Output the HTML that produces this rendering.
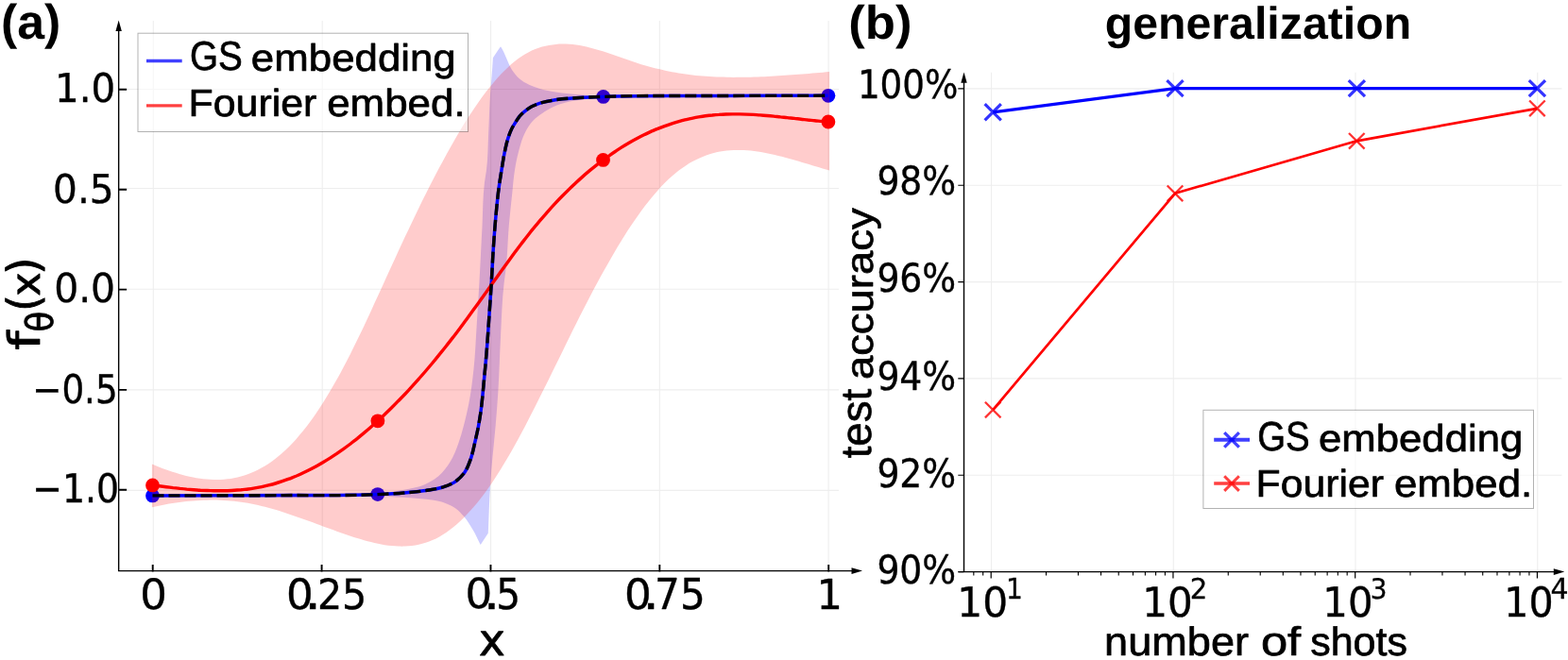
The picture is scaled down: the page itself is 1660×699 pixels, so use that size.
<!DOCTYPE html>
<html lang="en"><head><meta charset="utf-8"><title>GS embedding vs Fourier embedding</title>
<style>html,body{margin:0;padding:0;background:#fff;overflow:hidden}svg{display:block}</style>
</head><body>
<svg width="1660" height="699" viewBox="0 0 1660 699">
<rect width="1660" height="699" fill="#fff"/>
<path d="M162.30,22.0 V604.6 M341.20,22.0 V604.6 M519.60,22.0 V604.6 M698.30,22.0 V604.6 M877.10,22.0 V604.6 M125.65,94.50 H888.0 M125.65,199.50 H888.0 M125.65,306.20 H888.0 M125.65,412.90 H888.0 M125.65,519.40 H888.0 M1049.50,76.7 V605.6 M1242.25,76.7 V605.6 M1435.00,76.7 V605.6 M1627.75,76.7 V605.6 M1020.5,93.90 H1653.5 M1020.5,196.24 H1653.5 M1020.5,298.58 H1653.5 M1020.5,400.92 H1653.5 M1020.5,503.26 H1653.5" stroke="#eeeeee" stroke-width="1.1" fill="none"/>
<circle cx="161.5" cy="524.9" r="7.4" fill="#0000ff"/>
<circle cx="399.8" cy="523.6" r="7.4" fill="#0000ff"/>
<circle cx="638.7" cy="102.4" r="7.4" fill="#0000ff"/>
<circle cx="876.9" cy="101.3" r="7.4" fill="#0000ff"/>
<circle cx="161.5" cy="513.9" r="7.4" fill="#ff0000"/>
<circle cx="399.9" cy="445.8" r="7.4" fill="#ff0000"/>
<circle cx="638.5" cy="169.4" r="7.4" fill="#ff0000"/>
<circle cx="876.9" cy="129.0" r="7.4" fill="#ff0000"/>
<path d="M162.0,524.6 C241.2,523.9 321.1,532.2 399.7,522.6 C409.0,521.5 418.4,520.7 427.6,518.8 C435.0,517.3 442.7,516.2 449.5,513.2 C454.8,510.8 460.1,507.8 464.5,504.0 C469.2,499.9 473.2,494.6 476.5,489.3 C480.4,483.1 483.0,475.9 485.5,469.0 C487.5,463.4 489.1,457.7 490.6,452.0 C491.8,447.7 492.8,443.3 493.8,439.0 C494.7,435.2 495.5,431.3 496.3,427.5 C498.7,415.7 500.1,403.6 501.4,391.6 C503.1,376.4 503.6,361.1 504.6,345.8 C505.6,330.5 506.5,315.3 507.4,300.0 C508.5,280.0 509.4,260.0 510.5,240.0 C511.3,224.3 511.0,208.5 513.0,193.0 C513.6,188.7 514.4,184.3 515.0,180.0 C516.7,166.8 516.5,153.3 517.2,140.0 C517.9,126.7 518.1,113.3 519.0,100.0 C519.4,94.7 519.9,89.4 520.3,84.1 C520.9,76.5 521.4,68.8 521.9,61.2 L526.5,54.3 L530,49.3 C531.0,51.0 532.1,52.7 533.0,54.5 C534.3,57.1 535.3,59.8 536.5,62.5 C538.3,66.4 539.7,70.5 542.0,74.0 C544.3,77.5 547.0,80.9 550.1,83.6 C553.0,86.1 556.6,88.1 560.1,89.8 C563.3,91.3 566.7,92.3 570.1,93.4 C576.6,95.4 583.4,96.7 590.1,97.8 C596.7,98.9 603.4,99.4 610.1,100.0 C616.8,100.6 623.5,101.1 630.2,101.5 C633.0,101.7 635.9,101.8 638.7,101.9 C659.1,102.7 679.6,101.2 700.0,101.0 C759.0,100.4 818.0,101.0 877.0,101.0 L877.0,101.6 C818.0,101.7 759.0,101.2 700.0,101.9 C679.6,102.2 659.1,101.2 638.7,102.9 C635.9,103.1 633.0,103.4 630.2,103.7 C624.8,104.3 619.4,104.9 614.1,105.7 C609.4,106.4 604.7,107.1 600.1,108.3 C595.3,109.5 590.6,111.0 586.1,113.1 C581.9,115.0 577.9,117.5 574.1,120.1 C570.6,122.5 567.0,125.0 564.1,128.1 C560.9,131.6 558.3,135.9 556.1,140.1 C552.8,146.3 551.0,153.4 549.1,160.2 C547.3,166.7 546.1,173.4 545.0,180.0 C543.7,188.0 543.2,196.2 542.3,204.3 C541.1,215.8 539.8,227.2 538.8,238.7 C537.5,253.9 537.3,269.3 535.6,284.5 C535.0,289.7 534.2,294.8 533.6,300.0 C531.4,319.0 531.0,338.1 530.0,357.2 C529.0,376.3 528.6,395.4 527.4,414.5 C526.6,426.8 525.7,439.1 524.6,451.4 C523.6,462.9 522.3,474.3 521.3,485.8 C520.4,495.7 519.6,505.6 519.0,515.5 C517.9,531.9 517.5,548.4 516.8,564.8 L508.7,576.9 C506.0,571.7 503.7,566.3 500.7,561.3 C497.9,556.6 495.1,551.8 491.6,547.6 C488.8,544.3 485.9,540.9 482.4,538.4 C479.0,536.0 475.0,534.1 471.0,532.7 C466.6,531.1 461.8,530.4 457.2,529.6 C449.7,528.3 442.0,527.8 434.3,527.2 C429.5,526.8 424.8,526.6 420.0,526.4 C413.3,526.1 406.7,525.8 400.0,525.6 C393.3,525.4 386.7,525.4 380.0,525.3 C353.3,525.0 326.7,525.2 300.0,525.2 C254.0,525.2 208.0,525.2 162.0,525.2 Z" fill="#0000ff" fill-opacity="0.2"/>
<path d="M160.9,491.5 C163.3,492.5 165.7,493.5 168.1,494.4 C170.5,495.4 173.0,496.3 175.4,497.2 C177.8,498.0 180.2,498.9 182.6,499.7 C185.0,500.4 187.4,501.2 189.9,501.9 C192.3,502.6 194.7,503.3 197.1,503.9 C199.5,504.4 201.9,505.0 204.4,505.5 C206.8,505.9 209.2,506.4 211.6,506.7 C214.0,507.1 216.4,507.4 218.9,507.6 C221.3,507.8 223.7,507.9 226.1,508.0 C228.5,508.0 230.9,508.0 233.3,507.9 C235.8,507.8 238.2,507.6 240.6,507.3 C243.0,507.0 245.4,506.7 247.8,506.2 C250.3,505.7 252.7,505.2 255.1,504.5 C257.5,503.8 259.9,503.1 262.3,502.2 C264.8,501.3 267.2,500.3 269.6,499.2 C272.0,498.1 274.4,496.9 276.8,495.5 C279.3,494.2 281.7,492.7 284.1,491.2 C286.5,489.5 288.9,487.8 291.3,486.0 C293.8,484.1 296.2,482.1 298.5,480.1 C301.0,477.9 303.4,475.6 305.8,473.3 C308.3,470.8 310.7,468.3 313.0,465.7 C315.5,462.9 317.9,460.0 320.3,457.1 C322.8,454.1 325.2,450.9 327.5,447.7 C330.0,444.4 332.4,440.9 334.8,437.5 C337.2,433.8 339.7,430.2 342.0,426.4 C344.5,422.5 346.9,418.6 349.3,414.6 C351.7,410.4 354.1,406.2 356.5,402.0 C359.0,397.6 361.4,393.2 363.7,388.7 C366.2,384.1 368.6,379.4 371.0,374.7 C373.4,369.9 375.9,365.0 378.2,360.1 C380.7,355.0 383.1,350.0 385.5,344.9 C387.9,339.7 390.3,334.6 392.7,329.4 C395.2,324.1 397.6,318.8 400.0,313.6 C402.4,308.3 404.8,303.0 407.2,297.7 C409.6,292.4 412.0,287.1 414.5,281.8 C416.9,276.5 419.3,271.3 421.7,266.0 C424.1,260.9 426.5,255.7 428.9,250.5 C431.3,245.4 433.8,240.3 436.2,235.2 C438.6,230.2 441.0,225.2 443.4,220.2 C445.8,215.3 448.2,210.4 450.7,205.5 C453.1,200.7 455.5,195.9 457.9,191.2 C460.3,186.5 462.7,181.9 465.2,177.3 C467.6,172.8 470.0,168.3 472.4,163.9 C474.8,159.5 477.2,155.2 479.7,150.9 C482.0,146.8 484.4,142.7 486.9,138.6 C489.3,134.6 491.7,130.7 494.1,126.8 C496.5,123.1 498.9,119.4 501.4,115.7 C503.8,112.2 506.2,108.7 508.6,105.3 C511.0,102.0 513.4,98.8 515.9,95.6 C518.2,92.6 520.6,89.6 523.1,86.7 C525.5,83.9 527.9,81.2 530.4,78.6 C532.7,76.2 535.1,73.7 537.6,71.4 C540.0,69.2 542.4,67.1 544.9,65.1 C547.2,63.3 549.6,61.5 552.1,59.8 C554.4,58.3 556.9,56.8 559.3,55.5 C561.7,54.2 564.1,53.1 566.6,52.1 C569.0,51.1 571.4,50.3 573.8,49.6 C576.2,48.9 578.6,48.3 581.1,47.9 C583.5,47.4 585.9,47.1 588.3,46.9 C590.7,46.6 593.2,46.5 595.6,46.5 C598.0,46.5 600.4,46.6 602.8,46.8 C605.2,47.0 607.7,47.2 610.1,47.6 C612.5,47.9 614.9,48.3 617.3,48.8 C619.7,49.3 622.1,49.8 624.5,50.4 C627.0,51.0 629.4,51.7 631.8,52.4 C634.2,53.1 636.6,53.8 639.0,54.6 C641.5,55.3 643.9,56.1 646.3,57.0 C648.7,57.8 651.1,58.6 653.5,59.4 C655.9,60.3 658.4,61.1 660.8,62.0 C663.2,62.8 665.6,63.7 668.0,64.5 C670.4,65.3 672.8,66.1 675.3,66.9 C677.7,67.7 680.1,68.5 682.5,69.2 C684.9,69.9 687.3,70.6 689.7,71.2 C692.2,71.9 694.6,72.5 697.0,73.1 C699.4,73.7 701.8,74.2 704.2,74.7 C706.6,75.2 709.1,75.7 711.5,76.2 C713.9,76.6 716.3,77.0 718.7,77.4 C721.1,77.8 723.5,78.2 726.0,78.5 C728.4,78.8 730.8,79.1 733.2,79.4 C735.6,79.7 738.0,79.9 740.5,80.2 C742.9,80.4 745.3,80.6 747.7,80.8 C750.1,80.9 752.5,81.1 754.9,81.2 C757.4,81.4 759.8,81.5 762.2,81.6 C764.6,81.6 767.0,81.7 769.4,81.8 C771.8,81.8 774.3,81.8 776.7,81.9 C779.1,81.9 781.5,81.9 783.9,81.8 C786.3,81.8 788.8,81.8 791.2,81.7 C793.6,81.7 796.0,81.6 798.4,81.5 C800.8,81.5 803.2,81.4 805.7,81.3 C808.1,81.2 810.5,81.0 812.9,80.9 C815.3,80.8 817.7,80.6 820.1,80.5 C822.6,80.4 825.0,80.2 827.4,80.0 C829.8,79.9 832.2,79.7 834.6,79.5 C837.0,79.4 839.5,79.2 841.9,79.0 C844.3,78.8 846.7,78.6 849.1,78.4 C851.5,78.2 854.0,78.1 856.4,77.9 C858.8,77.7 861.2,77.5 863.6,77.3 C866.0,77.1 868.4,76.9 870.9,76.7 C873.3,76.5 875.7,76.3 878.1,76.1 L878.1,180.4 C875.7,179.7 873.3,179.1 870.9,178.4 C868.4,177.7 866.0,177.0 863.6,176.3 C861.2,175.6 858.8,174.9 856.4,174.1 C854.0,173.4 851.5,172.7 849.1,172.0 C846.7,171.2 844.3,170.5 841.9,169.8 C839.5,169.1 837.1,168.4 834.6,167.7 C832.2,167.0 829.8,166.4 827.4,165.8 C825.0,165.1 822.6,164.5 820.1,163.9 C817.7,163.4 815.3,162.8 812.9,162.4 C810.5,161.9 808.1,161.4 805.7,161.0 C803.2,160.6 800.8,160.2 798.4,159.9 C796.0,159.7 793.6,159.4 791.2,159.2 C788.8,159.1 786.3,158.9 783.9,158.9 C781.5,158.9 779.1,158.9 776.7,159.0 C774.3,159.1 771.8,159.3 769.4,159.6 C767.0,159.8 764.6,160.2 762.2,160.6 C759.8,161.1 757.3,161.6 754.9,162.3 C752.5,162.9 750.1,163.7 747.7,164.5 C745.3,165.4 742.8,166.4 740.5,167.4 C738.0,168.5 735.6,169.7 733.2,171.0 C730.7,172.4 728.3,173.8 726.0,175.4 C723.5,177.0 721.1,178.7 718.7,180.5 C716.2,182.4 713.8,184.4 711.5,186.4 C709.0,188.6 706.6,190.9 704.2,193.2 C701.7,195.7 699.3,198.3 697.0,200.9 C694.5,203.7 692.1,206.5 689.7,209.4 C687.3,212.4 684.9,215.5 682.5,218.6 C680.0,221.8 677.6,225.2 675.3,228.5 C672.8,232.0 670.4,235.5 668.0,239.1 C665.5,242.8 663.1,246.5 660.8,250.3 C658.3,254.2 655.9,258.2 653.5,262.1 C651.1,266.2 648.7,270.3 646.3,274.4 C643.8,278.7 641.4,283.0 639.0,287.3 C636.6,291.7 634.2,296.1 631.8,300.6 C629.3,305.1 626.9,309.7 624.5,314.2 C622.1,318.9 619.7,323.6 617.3,328.3 C614.9,333.0 612.5,337.8 610.1,342.6 C607.6,347.5 605.2,352.3 602.8,357.2 C600.4,362.1 598.0,367.0 595.6,371.9 C593.1,376.8 590.7,381.8 588.3,386.7 C585.9,391.6 583.5,396.5 581.1,401.4 C578.7,406.3 576.3,411.2 573.8,416.1 C571.4,420.9 569.0,425.7 566.6,430.5 C564.2,435.2 561.8,440.0 559.3,444.7 C557.0,449.3 554.5,453.9 552.1,458.4 C549.7,462.9 547.3,467.3 544.9,471.7 C542.5,476.0 540.1,480.3 537.6,484.5 C535.2,488.5 532.8,492.6 530.4,496.6 C528.0,500.4 525.6,504.2 523.1,508.0 C520.8,511.5 518.4,515.1 515.9,518.5 C513.5,521.8 511.1,525.1 508.6,528.3 C506.3,531.3 503.9,534.2 501.4,537.1 C499.0,539.8 496.6,542.5 494.1,545.1 C491.8,547.6 489.4,549.9 486.9,552.2 C484.6,554.4 482.1,556.5 479.7,558.5 C477.3,560.4 474.9,562.2 472.4,563.9 C470.1,565.5 467.6,567.0 465.2,568.4 C462.8,569.7 460.4,570.9 457.9,572.0 C455.6,573.0 453.1,573.9 450.7,574.7 C448.3,575.5 445.9,576.2 443.4,576.7 C441.0,577.3 438.6,577.7 436.2,578.0 C433.8,578.3 431.4,578.5 428.9,578.6 C426.5,578.7 424.1,578.7 421.7,578.6 C419.3,578.5 416.9,578.4 414.5,578.1 C412.0,577.9 409.6,577.5 407.2,577.2 C404.8,576.8 402.4,576.3 400.0,575.8 C397.5,575.3 395.1,574.7 392.7,574.1 C390.3,573.5 387.9,572.8 385.5,572.2 C383.1,571.5 380.6,570.7 378.2,570.0 C375.8,569.3 373.4,568.5 371.0,567.7 C368.6,566.9 366.2,566.1 363.7,565.2 C361.3,564.4 358.9,563.6 356.5,562.7 C354.1,561.8 351.7,561.0 349.3,560.1 C346.8,559.2 344.4,558.3 342.0,557.4 C339.6,556.5 337.2,555.6 334.8,554.7 C332.4,553.8 329.9,553.0 327.5,552.1 C325.1,551.2 322.7,550.3 320.3,549.4 C317.9,548.6 315.5,547.7 313.0,546.9 C310.6,546.0 308.2,545.2 305.8,544.4 C303.4,543.6 301.0,542.8 298.5,542.0 C296.1,541.2 293.7,540.5 291.3,539.8 C288.9,539.1 286.5,538.4 284.1,537.7 C281.6,537.1 279.2,536.4 276.8,535.9 C274.4,535.3 272.0,534.7 269.6,534.2 C267.2,533.7 264.7,533.3 262.3,532.8 C259.9,532.4 257.5,532.0 255.1,531.7 C252.7,531.4 250.3,531.1 247.8,530.8 C245.4,530.6 243.0,530.4 240.6,530.2 C238.2,530.0 235.8,529.9 233.3,529.8 C230.9,529.7 228.5,529.6 226.1,529.6 C223.7,529.6 221.3,529.6 218.9,529.7 C216.4,529.7 214.0,529.8 211.6,529.9 C209.2,530.1 206.8,530.2 204.4,530.4 C201.9,530.6 199.5,530.8 197.1,531.1 C194.7,531.3 192.3,531.6 189.9,532.0 C187.5,532.3 185.0,532.6 182.6,533.0 C180.2,533.4 177.8,533.8 175.4,534.3 C173.0,534.7 170.6,535.2 168.1,535.7 C165.7,536.2 163.3,536.8 160.9,537.3 Z" fill="#ff0000" fill-opacity="0.2"/>
<path d="M161.5,524.9 C207.7,524.8 253.8,524.9 300.0,524.6 C333.3,524.4 366.6,525.2 399.8,523.6 C409.1,523.2 418.4,522.8 427.6,522.0 C435.2,521.4 442.9,520.8 450.5,519.6 C456.6,518.6 462.9,517.9 468.7,516.0 C473.4,514.4 478.4,512.7 482.4,509.8 C485.9,507.3 489.1,504.1 491.6,500.7 C494.8,496.4 496.6,490.9 498.4,485.8 C500.5,479.9 501.6,473.6 503.0,467.5 C504.2,462.2 505.5,456.8 506.5,451.4 C507.3,447.0 508.0,442.5 508.7,438.0 C510.4,426.4 511.3,414.7 512.4,403.0 C513.5,391.6 514.6,380.1 515.5,368.7 C516.4,357.2 517.1,345.8 517.9,334.3 C518.7,323.0 519.5,311.8 520.2,300.5 C521.0,287.5 521.5,274.6 522.4,261.6 C523.2,250.1 524.0,238.7 525.1,227.2 C526.0,217.3 526.9,207.4 528.3,197.5 C529.1,191.7 530.1,185.8 531.0,180.0 C532.0,174.2 532.8,168.3 534.0,162.5 C535.1,157.2 536.1,151.8 537.8,146.6 C538.9,143.1 540.1,139.5 541.8,136.2 C542.9,134.0 544.3,131.9 545.6,129.8 C547.1,127.5 548.4,125.1 550.2,123.0 C552.0,120.9 554.1,119.1 556.2,117.4 C558.3,115.7 560.6,114.1 563.0,112.8 C565.8,111.3 568.9,110.2 572.0,109.2 C577.2,107.5 582.6,106.6 588.0,105.7 C595.3,104.5 602.7,104.2 610.0,103.7 C619.5,103.0 629.1,102.8 638.7,102.4 C679.1,100.9 719.6,101.7 760.0,101.5 C799.0,101.3 837.9,101.4 876.9,101.3" fill="none" stroke="#0000ff" stroke-width="3.5" stroke-linejoin="round"/>
<path d="M161.5,513.9 C163.9,514.2 166.3,514.5 168.7,514.8 C171.1,515.1 173.5,515.4 176.0,515.7 C178.4,516.0 180.8,516.3 183.2,516.6 C185.6,516.8 188.0,517.1 190.4,517.4 C192.8,517.6 195.2,517.8 197.6,518.1 C200.0,518.3 202.4,518.5 204.9,518.7 C207.3,518.9 209.7,519.0 212.1,519.2 C214.5,519.3 216.9,519.4 219.3,519.5 C221.7,519.6 224.1,519.7 226.5,519.8 C228.9,519.8 231.4,519.8 233.8,519.8 C236.2,519.8 238.6,519.8 241.0,519.7 C243.4,519.6 245.8,519.5 248.2,519.3 C250.6,519.2 253.0,519.0 255.4,518.8 C257.9,518.5 260.3,518.3 262.7,518.0 C265.1,517.7 267.5,517.3 269.9,516.9 C272.3,516.5 274.7,516.1 277.1,515.6 C279.5,515.1 281.9,514.5 284.3,513.9 C286.8,513.3 289.2,512.7 291.6,512.0 C294.0,511.3 296.4,510.5 298.8,509.7 C301.2,508.9 303.6,508.1 306.0,507.2 C308.5,506.2 310.9,505.3 313.3,504.3 C315.7,503.2 318.1,502.2 320.5,501.0 C322.9,499.9 325.3,498.7 327.7,497.5 C330.1,496.3 332.5,495.0 334.9,493.7 C337.4,492.3 339.8,491.0 342.2,489.5 C344.6,488.1 347.0,486.6 349.4,485.1 C351.8,483.6 354.2,482.0 356.6,480.4 C359.0,478.7 361.4,477.0 363.8,475.3 C366.3,473.6 368.7,471.8 371.1,470.0 C373.5,468.1 375.9,466.3 378.3,464.4 C380.7,462.4 383.1,460.4 385.5,458.4 C387.9,456.4 390.4,454.3 392.7,452.2 C395.2,450.1 397.6,448.0 400.0,445.8 C402.4,443.5 404.8,441.3 407.2,439.0 C409.6,436.7 412.0,434.4 414.4,432.0 C416.9,429.6 419.3,427.2 421.6,424.7 C424.1,422.2 426.5,419.7 428.9,417.2 C431.3,414.6 433.7,412.0 436.1,409.4 C438.5,406.7 440.9,404.0 443.3,401.3 C445.8,398.6 448.2,395.8 450.6,393.0 C453.0,390.2 455.4,387.3 457.8,384.5 C460.2,381.6 462.6,378.6 465.0,375.7 C467.4,372.7 469.8,369.7 472.2,366.7 C474.7,363.6 477.1,360.5 479.5,357.4 C481.9,354.3 484.3,351.1 486.7,347.9 C489.1,344.7 491.5,341.5 493.9,338.2 C496.3,334.9 498.7,331.6 501.1,328.3 C503.6,325.0 506.0,321.6 508.4,318.3 C510.8,314.9 513.2,311.5 515.6,308.2 C518.0,304.8 520.4,301.4 522.8,298.0 C525.2,294.7 527.6,291.3 530.0,287.9 C532.4,284.6 534.8,281.3 537.3,277.9 C539.7,274.6 542.1,271.4 544.5,268.1 C546.9,264.9 549.3,261.7 551.7,258.5 C554.1,255.4 556.5,252.2 558.9,249.2 C561.3,246.1 563.7,243.1 566.2,240.2 C568.6,237.3 571.0,234.4 573.4,231.6 C575.8,228.8 578.2,226.0 580.6,223.3 C583.0,220.6 585.4,218.0 587.8,215.4 C590.2,212.8 592.6,210.3 595.1,207.8 C597.5,205.4 599.9,203.0 602.3,200.6 C604.7,198.2 607.1,196.0 609.5,193.7 C611.9,191.5 614.3,189.3 616.8,187.1 C619.1,185.0 621.5,183.0 624.0,180.9 C626.4,178.9 628.8,177.0 631.2,175.1 C633.6,173.2 636.0,171.3 638.4,169.5 C640.8,167.7 643.2,166.0 645.7,164.3 C648.0,162.6 650.5,161.0 652.9,159.4 C655.3,157.8 657.7,156.2 660.1,154.8 C662.5,153.3 664.9,151.9 667.3,150.5 C669.7,149.1 672.1,147.8 674.6,146.5 C677.0,145.2 679.4,144.0 681.8,142.8 C684.2,141.7 686.6,140.5 689.0,139.4 C691.4,138.4 693.8,137.3 696.2,136.4 C698.6,135.4 701.0,134.5 703.5,133.6 C705.9,132.7 708.3,131.9 710.7,131.1 C713.1,130.3 715.5,129.6 717.9,128.9 C720.3,128.2 722.7,127.5 725.1,126.9 C727.5,126.4 730.0,125.8 732.4,125.3 C734.8,124.8 737.2,124.3 739.6,123.9 C742.0,123.5 744.4,123.1 746.8,122.8 C749.2,122.5 751.6,122.2 754.1,122.0 C756.5,121.7 758.9,121.5 761.3,121.4 C763.7,121.2 766.1,121.1 768.5,121.0 C770.9,120.9 773.3,120.9 775.7,120.9 C778.1,120.8 780.6,120.9 783.0,120.9 C785.4,120.9 787.8,121.0 790.2,121.1 C792.6,121.2 795.0,121.3 797.4,121.4 C799.8,121.6 802.2,121.7 804.6,121.9 C807.0,122.1 809.5,122.3 811.9,122.5 C814.3,122.7 816.7,122.9 819.1,123.1 C821.5,123.4 823.9,123.6 826.3,123.9 C828.7,124.1 831.1,124.4 833.5,124.6 C836.0,124.9 838.4,125.1 840.8,125.4 C843.2,125.7 845.6,125.9 848.0,126.2 C850.4,126.5 852.8,126.7 855.2,127.0 C857.6,127.2 860.0,127.5 862.4,127.7 C864.9,127.9 867.3,128.2 869.7,128.4 C872.1,128.6 874.5,128.8 876.9,129.0" fill="none" stroke="#ff0000" stroke-width="3.4" stroke-linejoin="round"/>
<path d="M161.5,524.9 C207.7,524.8 253.8,524.9 300.0,524.6 C333.3,524.4 366.6,525.2 399.8,523.6 C409.1,523.2 418.4,522.8 427.6,522.0 C435.2,521.4 442.9,520.8 450.5,519.6 C456.6,518.6 462.9,517.9 468.7,516.0 C473.4,514.4 478.4,512.7 482.4,509.8 C485.9,507.3 489.1,504.1 491.6,500.7 C494.8,496.4 496.6,490.9 498.4,485.8 C500.5,479.9 501.6,473.6 503.0,467.5 C504.2,462.2 505.5,456.8 506.5,451.4 C507.3,447.0 508.0,442.5 508.7,438.0 C510.4,426.4 511.3,414.7 512.4,403.0 C513.5,391.6 514.6,380.1 515.5,368.7 C516.4,357.2 517.1,345.8 517.9,334.3 C518.7,323.0 519.5,311.8 520.2,300.5 C521.0,287.5 521.5,274.6 522.4,261.6 C523.2,250.1 524.0,238.7 525.1,227.2 C526.0,217.3 526.9,207.4 528.3,197.5 C529.1,191.7 530.1,185.8 531.0,180.0 C532.0,174.2 532.8,168.3 534.0,162.5 C535.1,157.2 536.1,151.8 537.8,146.6 C538.9,143.1 540.1,139.5 541.8,136.2 C542.9,134.0 544.3,131.9 545.6,129.8 C547.1,127.5 548.4,125.1 550.2,123.0 C552.0,120.9 554.1,119.1 556.2,117.4 C558.3,115.7 560.6,114.1 563.0,112.8 C565.8,111.3 568.9,110.2 572.0,109.2 C577.2,107.5 582.6,106.6 588.0,105.7 C595.3,104.5 602.7,104.2 610.0,103.7 C619.5,103.0 629.1,102.8 638.7,102.4 C679.1,100.9 719.6,101.7 760.0,101.5 C799.0,101.3 837.9,101.4 876.9,101.3" fill="none" stroke="#000" stroke-width="3.4" stroke-dasharray="12 5" stroke-linejoin="round"/>
<path d="M1051.2,118.8 L1244.0,93.65 L1436.4,93.65 L1627.4,93.65" fill="none" stroke="#0000ff" stroke-width="3.3" stroke-linejoin="round"/>
<path d="M1042.6,110.2 L1059.8,127.4 M1042.6,127.4 L1059.8,110.2" stroke="#0000ff" stroke-width="3.2" stroke-opacity="0.8" fill="none"/>
<path d="M1235.4,85.1 L1252.6,102.2 M1235.4,102.2 L1252.6,85.1" stroke="#0000ff" stroke-width="3.2" stroke-opacity="0.8" fill="none"/>
<path d="M1427.8,85.1 L1445.0,102.2 M1427.8,102.2 L1445.0,85.1" stroke="#0000ff" stroke-width="3.2" stroke-opacity="0.8" fill="none"/>
<path d="M1618.8,85.1 L1636.0,102.2 M1618.8,102.2 L1636.0,85.1" stroke="#0000ff" stroke-width="3.2" stroke-opacity="0.8" fill="none"/>
<path d="M1051.2,434.1 L1244.0,204.8 L1436.3,149.3 L1627.4,114.8" fill="none" stroke="#ff0000" stroke-width="2.7" stroke-linejoin="round"/>
<path d="M1042.9,425.8 L1059.5,442.4 M1042.9,442.4 L1059.5,425.8" stroke="#ff0000" stroke-width="2.3" stroke-opacity="0.8" fill="none"/>
<path d="M1235.7,196.5 L1252.3,213.1 M1235.7,213.1 L1252.3,196.5" stroke="#ff0000" stroke-width="2.3" stroke-opacity="0.8" fill="none"/>
<path d="M1428.0,141.0 L1444.6,157.6 M1428.0,157.6 L1444.6,141.0" stroke="#ff0000" stroke-width="2.3" stroke-opacity="0.8" fill="none"/>
<path d="M1619.1,106.5 L1635.7,123.1 M1619.1,123.1 L1635.7,106.5" stroke="#ff0000" stroke-width="2.3" stroke-opacity="0.8" fill="none"/>
<path d="M125.65,605.3000000000001 V32 M124.95,604.6 H902 M1020.5,606.3000000000001 V87 M1014.6,605.6 H1645" stroke="#000" stroke-width="1.4" fill="none"/>
<path d="M125.65,21.6 L128.85,33.0 L122.45,33.0 Z M913,604.6 L901.5,601.2 L901.5,608.0 Z M1020.5,76.4 L1023.7,87.7 L1017.3,87.7 Z M1656.3,605.6 L1644.8,602.3000000000001 L1644.8,608.9 Z" fill="#000"/>
<path d="M161.70,605.5 V598.0 M340.57,605.5 V598.0 M519.45,605.5 V598.0 M698.33,605.5 V598.0 M877.20,605.5 V598.0 M125.65,94.80 H134.15 M125.65,200.80 H134.15 M125.65,306.60 H134.15 M125.65,412.90 H134.15 M125.65,518.70 H134.15" stroke="#000" stroke-width="1.9" fill="none"/>
<path d="M1020.5,93.90 H1014.3 M1020.5,196.24 H1014.3 M1020.5,298.58 H1014.3 M1020.5,400.92 H1014.3 M1020.5,503.26 H1014.3 M1020.5,605.60 H1014.3 M1049.20,605.6 V612.5 M1241.95,605.6 V612.5 M1434.70,605.6 V612.5 M1627.45,605.6 V612.5" stroke="#000" stroke-width="1.2" fill="none"/>
<path d="M1030.82,605.6 V609.6 M1040.68,605.6 V609.6 M1107.52,605.6 V609.6 M1141.47,605.6 V609.6 M1165.55,605.6 V609.6 M1184.23,605.6 V609.6 M1199.49,605.6 V609.6 M1212.39,605.6 V609.6 M1223.57,605.6 V609.6 M1233.43,605.6 V609.6 M1300.27,605.6 V609.6 M1334.22,605.6 V609.6 M1358.30,605.6 V609.6 M1376.98,605.6 V609.6 M1392.24,605.6 V609.6 M1405.14,605.6 V609.6 M1416.32,605.6 V609.6 M1426.18,605.6 V609.6 M1493.02,605.6 V609.6 M1526.97,605.6 V609.6 M1551.05,605.6 V609.6 M1569.73,605.6 V609.6 M1584.99,605.6 V609.6 M1597.89,605.6 V609.6 M1609.07,605.6 V609.6 M1618.93,605.6 V609.6" stroke="#000" stroke-width="1.1" fill="none"/>
<rect x="146.0" y="35.2" width="349.5" height="104.3" fill="#fff" fill-opacity="0.5" stroke="#000" stroke-opacity="0.3" stroke-width="1"/>
<path d="M155,64.5 H192.7" stroke="#0000ff" stroke-opacity="0.75" stroke-width="3.7"/>
<path d="M155,111.9 H192.7" stroke="#ff0000" stroke-opacity="0.75" stroke-width="3.4"/>
<text text-rendering="geometricPrecision" font-family="'Liberation Sans', Arial, Helvetica, sans-serif" font-weight="normal" fill="#000"><tspan x="201.03" y="74.37" font-size="43.30" textLength="55.77" lengthAdjust="spacingAndGlyphs" stroke="#000" stroke-width="0.7" stroke-linejoin="round">GS</tspan> <tspan x="265.89" y="74.97" font-size="40.12" textLength="216.89" lengthAdjust="spacingAndGlyphs" stroke="#000" stroke-width="0.7" stroke-linejoin="round">embedding</tspan></text>
<text text-rendering="geometricPrecision" font-family="'Liberation Sans', Arial, Helvetica, sans-serif" font-weight="normal" fill="#000"><tspan x="199.58" y="122.78" font-size="40.47" textLength="135.71" lengthAdjust="spacingAndGlyphs" stroke="#000" stroke-width="0.7" stroke-linejoin="round">Fourier</tspan> <tspan x="346.16" y="122.80" font-size="40.50" textLength="146.55" lengthAdjust="spacingAndGlyphs" stroke="#000" stroke-width="0.7" stroke-linejoin="round">embed.</tspan></text>
<rect x="1273.9" y="434.3" width="349.5999999999999" height="104.19999999999999" fill="#fff" fill-opacity="0.5" stroke="#000" stroke-opacity="0.3" stroke-width="1"/>
<path d="M1285.2,465.8 H1323" stroke="#0000ff" stroke-opacity="0.75" stroke-width="4.0"/>
<path d="M1296.2,458.1 L1311.8,473.7 M1296.2,473.7 L1311.8,458.1" stroke="#0000ff" stroke-width="3.3" stroke-opacity="0.75" fill="none"/>
<path d="M1285.2,512 H1323" stroke="#ff0000" stroke-opacity="0.75" stroke-width="3.6"/>
<path d="M1296.2,504.3 L1311.8,519.9 M1296.2,519.9 L1311.8,504.3" stroke="#ff0000" stroke-width="3.0" stroke-opacity="0.75" fill="none"/>
<text text-rendering="geometricPrecision" font-family="'Liberation Sans', Arial, Helvetica, sans-serif" font-weight="normal" fill="#000"><tspan x="1331.13" y="477.15" font-size="43.36" textLength="55.40" lengthAdjust="spacingAndGlyphs" stroke="#000" stroke-width="0.7" stroke-linejoin="round">GS</tspan> <tspan x="1395.91" y="477.77" font-size="40.23" textLength="216.41" lengthAdjust="spacingAndGlyphs" stroke="#000" stroke-width="0.7" stroke-linejoin="round">embedding</tspan></text>
<text text-rendering="geometricPrecision" font-family="'Liberation Sans', Arial, Helvetica, sans-serif" font-weight="normal" fill="#000"><tspan x="1329.64" y="525.56" font-size="40.46" textLength="135.23" lengthAdjust="spacingAndGlyphs" stroke="#000" stroke-width="0.7" stroke-linejoin="round">Fourier</tspan> <tspan x="1475.90" y="525.58" font-size="40.50" textLength="146.37" lengthAdjust="spacingAndGlyphs" stroke="#000" stroke-width="0.7" stroke-linejoin="round">embed.</tspan></text>
<text text-rendering="geometricPrecision" font-family="'Liberation Sans', Arial, Helvetica, sans-serif" font-weight="bold" fill="#000"><tspan x="0.98" y="40.57" font-size="51.63" textLength="63.36" lengthAdjust="spacingAndGlyphs">(a)</tspan></text>
<text text-rendering="geometricPrecision" font-family="'Liberation Sans', Arial, Helvetica, sans-serif" font-weight="bold" fill="#000"><tspan x="898.25" y="40.69" font-size="50.15" textLength="67.18" lengthAdjust="spacingAndGlyphs">(b)</tspan></text>
<text text-rendering="geometricPrecision" font-family="'Liberation Sans', Arial, Helvetica, sans-serif" font-weight="bold" fill="#000"><tspan x="1169.72" y="40.80" font-size="48.05" textLength="324.42" lengthAdjust="spacingAndGlyphs">generalization</tspan></text>
<text text-rendering="geometricPrecision" font-family="'DejaVu Sans Condensed', 'DejaVu Sans', 'Liberation Sans', sans-serif" font-weight="normal" fill="#000"><tspan x="58.14" y="108.47" font-size="42.12" textLength="64.04" lengthAdjust="spacingAndGlyphs" stroke="#000" stroke-width="0.35" stroke-linejoin="round">1.0</tspan></text>
<text text-rendering="geometricPrecision" font-family="'DejaVu Sans Condensed', 'DejaVu Sans', 'Liberation Sans', sans-serif" font-weight="normal" fill="#000"><tspan x="56.05" y="214.59" font-size="42.17" textLength="64.59" lengthAdjust="spacingAndGlyphs" stroke="#000" stroke-width="0.35" stroke-linejoin="round">0.5</tspan></text>
<text text-rendering="geometricPrecision" font-family="'DejaVu Sans Condensed', 'DejaVu Sans', 'Liberation Sans', sans-serif" font-weight="normal" fill="#000"><tspan x="57.17" y="320.28" font-size="42.46" textLength="64.94" lengthAdjust="spacingAndGlyphs" stroke="#000" stroke-width="0.35" stroke-linejoin="round">0.0</tspan></text>
<text text-rendering="geometricPrecision" font-family="'DejaVu Sans Condensed', 'DejaVu Sans', 'Liberation Sans', sans-serif" font-weight="normal" fill="#000"><tspan x="34.19" y="426.77" font-size="42.08" textLength="90.39" lengthAdjust="spacingAndGlyphs" stroke="#000" stroke-width="0.35" stroke-linejoin="round">−0.5</tspan></text>
<text text-rendering="geometricPrecision" font-family="'DejaVu Sans Condensed', 'DejaVu Sans', 'Liberation Sans', sans-serif" font-weight="normal" fill="#000"><tspan x="34.35" y="532.36" font-size="42.28" textLength="91.76" lengthAdjust="spacingAndGlyphs" stroke="#000" stroke-width="0.35" stroke-linejoin="round">−1.0</tspan></text>
<text text-rendering="geometricPrecision" font-family="'DejaVu Sans Condensed', 'DejaVu Sans', 'Liberation Sans', sans-serif" font-weight="normal" fill="#000"><tspan x="907.89" y="104.31" font-size="41.79" textLength="106.50" lengthAdjust="spacingAndGlyphs" stroke="#000" stroke-width="0.35" stroke-linejoin="round">100%</tspan></text>
<text text-rendering="geometricPrecision" font-family="'DejaVu Sans Condensed', 'DejaVu Sans', 'Liberation Sans', sans-serif" font-weight="normal" fill="#000"><tspan x="928.40" y="206.41" font-size="41.87" textLength="83.76" lengthAdjust="spacingAndGlyphs" stroke="#000" stroke-width="0.35" stroke-linejoin="round">98%</tspan></text>
<text text-rendering="geometricPrecision" font-family="'DejaVu Sans Condensed', 'DejaVu Sans', 'Liberation Sans', sans-serif" font-weight="normal" fill="#000"><tspan x="928.40" y="309.46" font-size="41.87" textLength="83.76" lengthAdjust="spacingAndGlyphs" stroke="#000" stroke-width="0.35" stroke-linejoin="round">96%</tspan></text>
<text text-rendering="geometricPrecision" font-family="'DejaVu Sans Condensed', 'DejaVu Sans', 'Liberation Sans', sans-serif" font-weight="normal" fill="#000"><tspan x="928.40" y="412.58" font-size="41.87" textLength="83.76" lengthAdjust="spacingAndGlyphs" stroke="#000" stroke-width="0.35" stroke-linejoin="round">94%</tspan></text>
<text text-rendering="geometricPrecision" font-family="'DejaVu Sans Condensed', 'DejaVu Sans', 'Liberation Sans', sans-serif" font-weight="normal" fill="#000"><tspan x="928.40" y="515.68" font-size="41.87" textLength="83.76" lengthAdjust="spacingAndGlyphs" stroke="#000" stroke-width="0.35" stroke-linejoin="round">92%</tspan></text>
<text text-rendering="geometricPrecision" font-family="'DejaVu Sans Condensed', 'DejaVu Sans', 'Liberation Sans', sans-serif" font-weight="normal" fill="#000"><tspan x="928.40" y="617.78" font-size="41.87" textLength="83.76" lengthAdjust="spacingAndGlyphs" stroke="#000" stroke-width="0.35" stroke-linejoin="round">90%</tspan></text>
<text text-rendering="geometricPrecision" font-family="'DejaVu Sans Condensed', 'DejaVu Sans', 'Liberation Sans', sans-serif" font-weight="normal" fill="#000"><tspan x="148.15" y="645.41" font-size="44.39" textLength="28.62" lengthAdjust="spacingAndGlyphs" stroke="#000" stroke-width="0.35" stroke-linejoin="round">0</tspan></text>
<text text-rendering="geometricPrecision" font-family="'DejaVu Sans Condensed', 'DejaVu Sans', 'Liberation Sans', sans-serif" font-weight="normal" fill="#000"><tspan x="303.12" y="645.41" font-size="44.40" textLength="28.73" lengthAdjust="spacingAndGlyphs" stroke="#000" stroke-width="0.35" stroke-linejoin="round">0</tspan><tspan x="321.92" y="645.24" font-size="48.51" textLength="18.22" lengthAdjust="spacingAndGlyphs" stroke="#000" stroke-width="0.35" stroke-linejoin="round">.</tspan><tspan x="335.90" y="645.36" font-size="44.39" textLength="52.46" lengthAdjust="spacingAndGlyphs" stroke="#000" stroke-width="0.35" stroke-linejoin="round">25</tspan></text>
<text text-rendering="geometricPrecision" font-family="'DejaVu Sans Condensed', 'DejaVu Sans', 'Liberation Sans', sans-serif" font-weight="normal" fill="#000"><tspan x="492.58" y="644.48" font-size="44.24" textLength="28.72" lengthAdjust="spacingAndGlyphs" stroke="#000" stroke-width="0.35" stroke-linejoin="round">0</tspan><tspan x="511.62" y="645.12" font-size="48.46" textLength="17.98" lengthAdjust="spacingAndGlyphs" stroke="#000" stroke-width="0.35" stroke-linejoin="round">.</tspan><tspan x="525.23" y="645.35" font-size="45.22" textLength="25.78" lengthAdjust="spacingAndGlyphs" stroke="#000" stroke-width="0.35" stroke-linejoin="round">5</tspan></text>
<text text-rendering="geometricPrecision" font-family="'DejaVu Sans Condensed', 'DejaVu Sans', 'Liberation Sans', sans-serif" font-weight="normal" fill="#000"><tspan x="661.12" y="645.41" font-size="44.40" textLength="28.73" lengthAdjust="spacingAndGlyphs" stroke="#000" stroke-width="0.35" stroke-linejoin="round">0</tspan><tspan x="679.92" y="645.24" font-size="48.51" textLength="18.22" lengthAdjust="spacingAndGlyphs" stroke="#000" stroke-width="0.35" stroke-linejoin="round">.</tspan><tspan x="693.11" y="645.31" font-size="45.36" textLength="53.55" lengthAdjust="spacingAndGlyphs" stroke="#000" stroke-width="0.35" stroke-linejoin="round">75</tspan></text>
<text text-rendering="geometricPrecision" font-family="'DejaVu Sans Condensed', 'DejaVu Sans', 'Liberation Sans', sans-serif" font-weight="normal" fill="#000"><tspan x="864.58" y="644.75" font-size="43.86" textLength="27.44" lengthAdjust="spacingAndGlyphs" stroke="#000" stroke-width="0.35" stroke-linejoin="round">1</tspan></text>
<text text-rendering="geometricPrecision" font-family="'DejaVu Sans Condensed', 'DejaVu Sans', 'Liberation Sans', sans-serif" font-weight="normal" fill="#000"><tspan x="1013.29" y="652.56" font-size="43.61" textLength="53.76" lengthAdjust="spacingAndGlyphs" stroke="#000" stroke-width="0.35" stroke-linejoin="round">10</tspan><tspan x="1065.00" y="633.77" font-size="30.36" textLength="17.81" lengthAdjust="spacingAndGlyphs" stroke="#000" stroke-width="0.3" stroke-linejoin="round">1</tspan></text>
<text text-rendering="geometricPrecision" font-family="'DejaVu Sans Condensed', 'DejaVu Sans', 'Liberation Sans', sans-serif" font-weight="normal" fill="#000"><tspan x="1209.16" y="652.63" font-size="43.26" textLength="53.52" lengthAdjust="spacingAndGlyphs" stroke="#000" stroke-width="0.35" stroke-linejoin="round">10</tspan><tspan x="1259.79" y="633.78" font-size="29.83" textLength="18.56" lengthAdjust="spacingAndGlyphs" stroke="#000" stroke-width="0.3" stroke-linejoin="round">2</tspan></text>
<text text-rendering="geometricPrecision" font-family="'DejaVu Sans Condensed', 'DejaVu Sans', 'Liberation Sans', sans-serif" font-weight="normal" fill="#000"><tspan x="1400.32" y="652.56" font-size="43.62" textLength="53.19" lengthAdjust="spacingAndGlyphs" stroke="#000" stroke-width="0.35" stroke-linejoin="round">10</tspan><tspan x="1450.66" y="633.97" font-size="29.57" textLength="17.67" lengthAdjust="spacingAndGlyphs" stroke="#000" stroke-width="0.3" stroke-linejoin="round">3</tspan></text>
<text text-rendering="geometricPrecision" font-family="'DejaVu Sans Condensed', 'DejaVu Sans', 'Liberation Sans', sans-serif" font-weight="normal" fill="#000"><tspan x="1592.27" y="652.56" font-size="43.62" textLength="52.33" lengthAdjust="spacingAndGlyphs" stroke="#000" stroke-width="0.35" stroke-linejoin="round">10</tspan><tspan x="1641.59" y="633.77" font-size="30.32" textLength="19.08" lengthAdjust="spacingAndGlyphs" stroke="#000" stroke-width="0.3" stroke-linejoin="round">4</tspan></text>
<text text-rendering="geometricPrecision" font-family="'DejaVu Sans', 'Liberation Sans', sans-serif" font-weight="normal" fill="#000"><tspan x="507.07" y="693.91" font-size="46.39" textLength="27.79" lengthAdjust="spacingAndGlyphs" stroke="#000" stroke-width="0.8" stroke-linejoin="round">x</tspan></text>
<text text-rendering="geometricPrecision" font-family="'Liberation Sans', Arial, Helvetica, sans-serif" font-weight="normal" fill="#000"><tspan x="1169.11" y="693.57" font-size="42.33" textLength="152.89" lengthAdjust="spacingAndGlyphs" stroke="#000" stroke-width="0.7" stroke-linejoin="round">number</tspan> <tspan x="1334.90" y="693.60" font-size="42.85" textLength="42.31" lengthAdjust="spacingAndGlyphs" stroke="#000" stroke-width="0.7" stroke-linejoin="round">of</tspan> <tspan x="1387.18" y="693.58" font-size="42.41" textLength="102.85" lengthAdjust="spacingAndGlyphs" stroke="#000" stroke-width="0.7" stroke-linejoin="round">shots</tspan></text>
<text text-rendering="geometricPrecision" transform="rotate(-90)" font-family="'Liberation Sans', Arial, Helvetica, sans-serif" font-weight="normal" fill="#000"><tspan x="-485.36" y="922.36" font-size="45.26" textLength="73.48" lengthAdjust="spacingAndGlyphs" stroke="#000" stroke-width="0.7" stroke-linejoin="round">test</tspan> <tspan x="-402.12" y="924.27" font-size="40.63" textLength="181.78" lengthAdjust="spacingAndGlyphs" stroke="#000" stroke-width="0.7" stroke-linejoin="round">accuracy</tspan></text>
<text text-rendering="geometricPrecision" transform="rotate(-90)" font-family="'DejaVu Sans', 'Liberation Sans', sans-serif" font-weight="normal" fill="#000"><tspan x="-370.65" y="42.07" font-size="46.25" textLength="20.29" lengthAdjust="spacingAndGlyphs" stroke="#000" stroke-width="0.8" stroke-linejoin="round">f</tspan><tspan x="-351.80" y="56.41" font-size="39.42" textLength="22.09" lengthAdjust="spacingAndGlyphs" stroke="#000" stroke-width="0.7" stroke-linejoin="round">θ</tspan><tspan x="-329.87" y="40.88" font-size="46.61" textLength="17.60" lengthAdjust="spacingAndGlyphs" stroke="#000" stroke-width="0.9" stroke-linejoin="round">(</tspan><tspan x="-313.38" y="41.92" font-size="42.34" textLength="24.96" lengthAdjust="spacingAndGlyphs" stroke="#000" stroke-width="0.9" stroke-linejoin="round">x</tspan><tspan x="-290.66" y="40.90" font-size="46.60" textLength="18.27" lengthAdjust="spacingAndGlyphs" stroke="#000" stroke-width="0.9" stroke-linejoin="round">)</tspan></text>
</svg>
</body></html>
